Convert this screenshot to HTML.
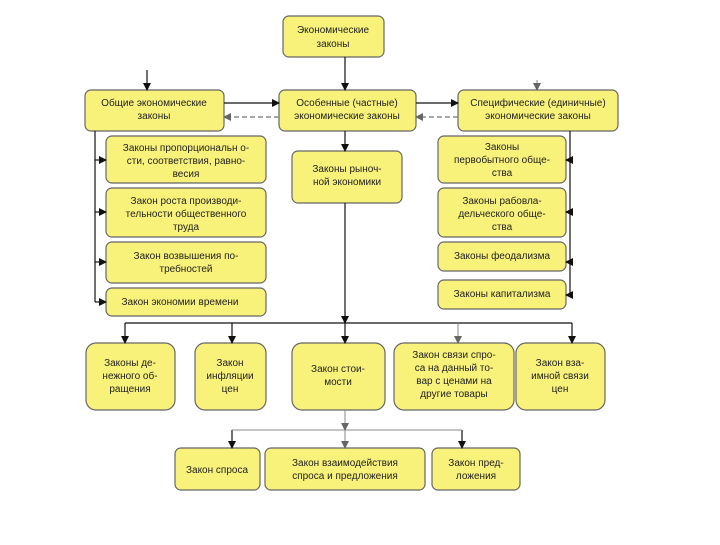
<!DOCTYPE html>
<html><head><meta charset="utf-8"><style>
html,body{margin:0;padding:0;background:#fff}
svg text{font-family:"Liberation Sans",sans-serif;font-size:10px;fill:#222;text-anchor:middle}
</style></head><body>
<svg width="720" height="540" viewBox="0 0 720 540" xmlns="http://www.w3.org/2000/svg">
<defs>
<marker id="a" markerWidth="8" markerHeight="8" refX="7" refY="4" orient="auto" markerUnits="userSpaceOnUse"><path d="M0,0 L8,4 L0,8z" fill="#111"/></marker>
<marker id="b" markerWidth="8" markerHeight="8" refX="7" refY="4" orient="auto" markerUnits="userSpaceOnUse"><path d="M0,0 L8,4 L0,8z" fill="#666"/></marker>
</defs>
<g fill="#f8f27a" stroke="#666" stroke-width="1.2">
<rect x="283" y="16" width="101" height="41" rx="6"/>
<rect x="85" y="90" width="139" height="41" rx="6"/>
<rect x="279" y="90" width="137" height="41" rx="6"/>
<rect x="458" y="90" width="160" height="41" rx="6"/>
<rect x="106" y="136" width="160" height="47" rx="6"/>
<rect x="106" y="188" width="160" height="49" rx="6"/>
<rect x="106" y="242" width="160" height="41" rx="6"/>
<rect x="106" y="288" width="160" height="28" rx="6"/>
<rect x="292" y="151" width="110" height="52" rx="6"/>
<rect x="438" y="136" width="128" height="47" rx="6"/>
<rect x="438" y="188" width="128" height="49" rx="6"/>
<rect x="438" y="242" width="128" height="29" rx="6"/>
<rect x="438" y="280" width="128" height="29" rx="6"/>
<rect x="86" y="343" width="89" height="67" rx="10"/>
<rect x="195" y="343" width="71" height="67" rx="10"/>
<rect x="292" y="343" width="93" height="67" rx="10"/>
<rect x="394" y="343" width="120" height="67" rx="10"/>
<rect x="516" y="343" width="89" height="67" rx="10"/>
<rect x="175" y="448" width="85" height="42" rx="6"/>
<rect x="265" y="448" width="160" height="42" rx="6"/>
<rect x="432" y="448" width="88" height="42" rx="6"/>
</g>
<g stroke="#111" stroke-width="1.2" fill="none">
<line x1="345" y1="57" x2="345" y2="90" marker-end="url(#a)"/>
<line x1="147" y1="70" x2="147" y2="90" marker-end="url(#a)"/>
<line x1="224" y1="103" x2="279" y2="103" marker-end="url(#a)"/>
<line x1="416" y1="103" x2="458" y2="103" marker-end="url(#a)"/>
<line x1="345" y1="131" x2="345" y2="151" marker-end="url(#a)"/>
<polyline points="95,131 95,302"/>
<line x1="95" y1="160" x2="106" y2="160" marker-end="url(#a)"/>
<line x1="95" y1="212" x2="106" y2="212" marker-end="url(#a)"/>
<line x1="95" y1="262" x2="106" y2="262" marker-end="url(#a)"/>
<line x1="95" y1="302" x2="106" y2="302" marker-end="url(#a)"/>
<polyline points="570,131 570,295"/>
<line x1="570" y1="160" x2="566" y2="160" marker-end="url(#a)"/>
<line x1="570" y1="212" x2="566" y2="212" marker-end="url(#a)"/>
<line x1="570" y1="262" x2="566" y2="262" marker-end="url(#a)"/>
<line x1="570" y1="295" x2="566" y2="295" marker-end="url(#a)"/>
<line x1="345" y1="203" x2="345" y2="323" marker-end="url(#a)"/>
<line x1="125" y1="323" x2="572" y2="323"/>
<line x1="125" y1="323" x2="125" y2="343" marker-end="url(#a)"/>
<line x1="232" y1="323" x2="232" y2="343" marker-end="url(#a)"/>
<line x1="345" y1="323" x2="345" y2="343" marker-end="url(#a)"/>
<line x1="572" y1="323" x2="572" y2="343" marker-end="url(#a)"/>
<line x1="462" y1="430" x2="462" y2="448" marker-end="url(#a)"/>
<line x1="232" y1="430" x2="232" y2="448" marker-end="url(#a)"/>
</g>
<g stroke="#888" stroke-width="1" fill="none">
<line x1="232" y1="430" x2="462" y2="430"/>
<line x1="345" y1="410" x2="345" y2="430" marker-end="url(#b)"/>
<line x1="345" y1="430" x2="345" y2="448" marker-end="url(#b)"/>
<line x1="458" y1="323" x2="458" y2="343" marker-end="url(#b)"/>
<line x1="537" y1="80" x2="537" y2="90" marker-end="url(#b)"/>
<line x1="279" y1="117" x2="224" y2="117" stroke-dasharray="5,3" stroke-width="1.5" marker-end="url(#b)"/>
<line x1="458" y1="117" x2="416" y2="117" stroke-dasharray="5,3" stroke-width="1.5" marker-end="url(#b)"/>
</g>
<text x="333" y="33">Экономические</text><text x="333" y="47">законы</text>
<text x="154" y="106">Общие экономические</text><text x="154" y="119">законы</text>
<text x="347" y="106">Особенные (частные)</text><text x="347" y="119">экономические законы</text>
<text x="538" y="106">Специфические (единичные)</text><text x="538" y="119">экономические законы</text>
<text x="186" y="151">Законы пропорциональн о-</text><text x="186" y="164">сти, соответствия, равно-</text><text x="186" y="177">весия</text>
<text x="186" y="204">Закон роста производи-</text><text x="186" y="217">тельности общественного</text><text x="186" y="230">труда</text>
<text x="186" y="259">Закон возвышения по-</text><text x="186" y="272">требностей</text>
<text x="180" y="305">Закон экономии времени</text>
<text x="347" y="172">Законы рыноч-</text><text x="347" y="185">ной экономики</text>
<text x="502" y="150">Законы</text><text x="502" y="163">первобытного обще-</text><text x="502" y="176">ства</text>
<text x="502" y="204">Законы рабовла-</text><text x="502" y="217">дельческого обще-</text><text x="502" y="230">ства</text>
<text x="502" y="259">Законы феодализма</text>
<text x="502" y="297">Законы капитализма</text>
<text x="130" y="366">Законы де-</text><text x="130" y="379">нежного об-</text><text x="130" y="392">ращения</text>
<text x="230" y="366">Закон</text><text x="230" y="379">инфляции</text><text x="230" y="392">цен</text>
<text x="338" y="372">Закон стои-</text><text x="338" y="385">мости</text>
<text x="454" y="358">Закон связи спро-</text><text x="454" y="371">са на данный то-</text><text x="454" y="384">вар с ценами на</text><text x="454" y="397">другие товары</text>
<text x="560" y="366">Закон вза-</text><text x="560" y="379">имной связи</text><text x="560" y="392">цен</text>
<text x="217" y="473">Закон спроса</text>
<text x="345" y="466">Закон взаимодействия</text><text x="345" y="479">спроса и предложения</text>
<text x="476" y="466">Закон пред-</text><text x="476" y="479">ложения</text>
</svg>
</body></html>
